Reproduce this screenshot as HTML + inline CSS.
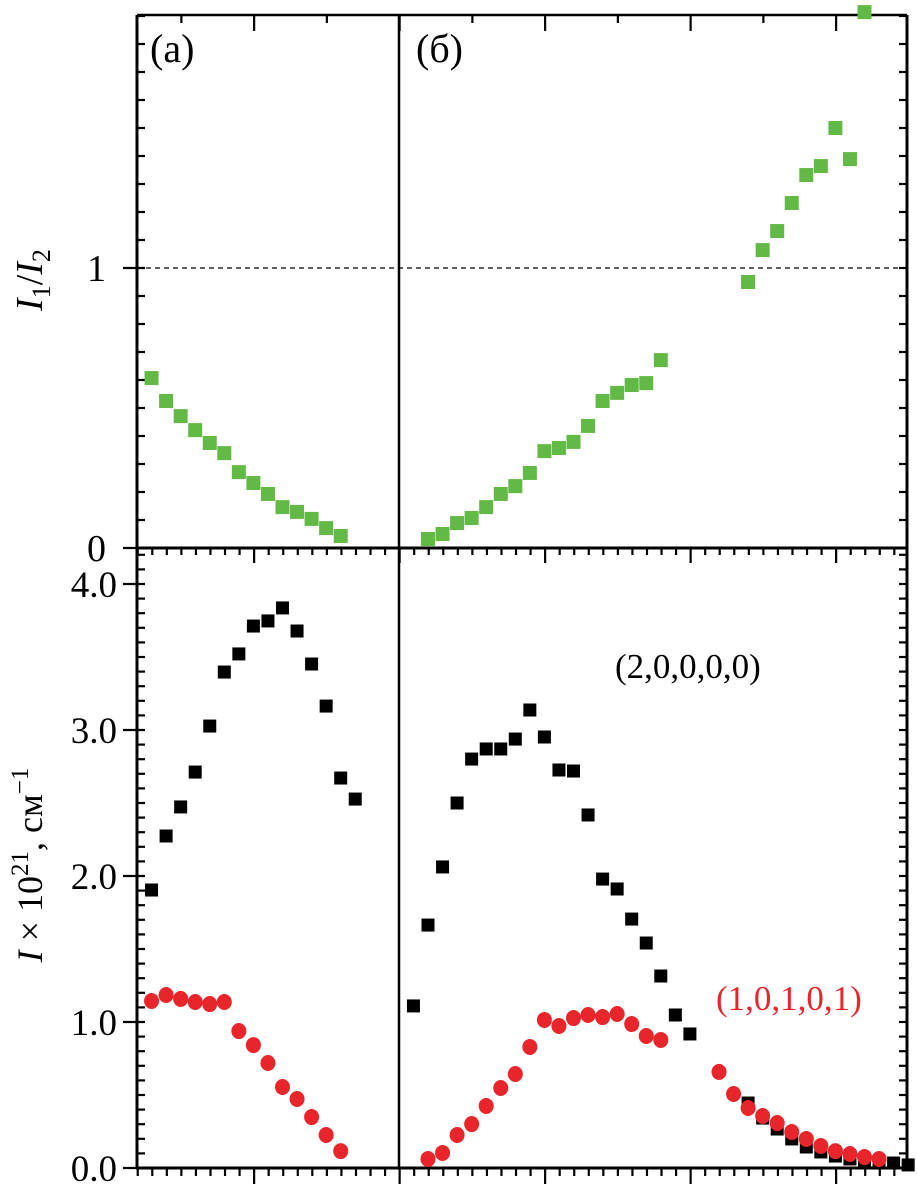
<!DOCTYPE html>
<html><head><meta charset="utf-8">
<style>
html,body{margin:0;padding:0;background:#fff;}
svg{display:block;font-family:"Liberation Serif",serif;}
svg text{font-family:"Liberation Serif","DejaVu Serif",serif;}
</style></head>
<body>
<svg id="chart" width="917" height="1191" viewBox="0 0 917 1191">
<g id="axes"></g>
<g id="marks"></g>
<g id="labels">
<text x="150" y="62" font-size="40">(a)</text>
<text x="416" y="62" font-size="40">(б)</text>
<text x="615" y="678" font-size="35">(2,0,0,0,0)</text>
<text x="716" y="1010" font-size="35" fill="#e8252a">(1,0,1,0,1)</text>
<text transform="translate(42,280) rotate(-90)" text-anchor="middle" font-size="38"><tspan font-style="italic">I</tspan><tspan font-size="26" dy="8">1</tspan><tspan dy="-8">/</tspan><tspan font-style="italic">I</tspan><tspan font-size="26" dy="8">2</tspan></text>
<text transform="translate(42,865) rotate(-90)" text-anchor="middle" font-size="36"><tspan font-style="italic">I</tspan> × 10<tspan font-size="25" dy="-14">21</tspan><tspan dy="14">, см</tspan><tspan font-size="25" dy="-14">−1</tspan></text>
</g>
</svg>
<script>
// data
const greenAx=[1,2,3,4,5,6,7,8,9,10,11,12,13,14];
const greenAy=[0.607,0.525,0.471,0.421,0.375,0.339,0.271,0.232,0.193,0.146,0.129,0.104,0.071,0.043];
const greenBx=[20,21,22,23,24,25,26,27,28,29,30,31,32,33,34,35,36];
const greenBy=[0.032,0.05,0.089,0.107,0.146,0.193,0.221,0.268,0.346,0.357,0.379,0.436,0.525,0.554,0.582,0.589,0.671];
const greenCx=[42,43,44,45,46,47,48,49,50];
const greenCy=[0.95,1.064,1.132,1.232,1.332,1.364,1.5,1.389,1.914];
const blackAx=[1,2,3,4,5,6,7,8,9,10,11,12,13,14,15];
const blackAy=[1.904,2.274,2.473,2.712,3.027,3.397,3.521,3.712,3.747,3.836,3.678,3.452,3.164,2.671,2.527];
const blackBx=[19,20,21,22,23,24,25,26,27,28,29,30,31,32,33,34,35,36,37,38];
const blackBy=[1.11,1.664,2.062,2.5,2.801,2.87,2.87,2.938,3.137,2.952,2.726,2.719,2.418,1.979,1.911,1.705,1.541,1.315,1.048,0.918];
const blackCx=[42,43,44,45,46,47,48,49,50,51,52,53];
const blackCy=[0.445,0.342,0.267,0.199,0.144,0.11,0.082,0.062,0.041,0.034,0.034,0.021];
const redAx=[1,2,3,4,5,6,7,8,9,10,11,12,13,14];
const redAy=[1.144,1.185,1.158,1.137,1.123,1.137,0.938,0.842,0.719,0.555,0.473,0.349,0.226,0.116];
const redBx=[20,21,22,23,24,25,26,27,28,29,30,31,32,33,34,35,36];
const redBy=[0.062,0.103,0.226,0.301,0.425,0.548,0.644,0.829,1.014,0.973,1.027,1.048,1.034,1.055,0.986,0.904,0.877];
const redCx=[40,41,42,43,44,45,46,47,48,49,50,51];
const redCy=[0.658,0.507,0.411,0.356,0.308,0.247,0.199,0.151,0.116,0.096,0.075,0.062];
const topTickLabels=["0","1"];
const botTickLabels=["0.0","1.0","2.0","3.0","4.0"];

const NS="http://www.w3.org/2000/svg";
const L=137,R=907,T=15,MID=548,B=1168,DIV=399;
const sx=x=>L+14.55*x;
const syTop=v=>MID-280*v;
const syBot=v=>B-146*v;
const axes=document.getElementById('axes');
const marks=document.getElementById('marks');
function mk(tag,attrs,parent){const e=document.createElementNS(NS,tag);for(const k in attrs)e.setAttribute(k,attrs[k]);parent.appendChild(e);return e;}
function line(x1,y1,x2,y2,w,name,extra){
  const e=mk('line',Object.assign({x1:x1,y1:y1,x2:x2,y2:y2,stroke:'#000','stroke-width':w},extra||{}),axes);
  
  
  return e;
}
line(L,T,R,T,2.5,'top-frame');
line(L,T,L,B,3,'left-axis');
line(R,T,R,B,3,'right-axis');
line(L-1,MID,R,MID,3,'middle-axis');
line(L-1,B,R+1,B,3,'bottom-axis');
line(DIV,T,DIV,B,2.5,'panel-divider');
line(L,syTop(1),R,syTop(1),1.2,'ref-line-one',{'stroke-dasharray':'5,4'});
for(let k=0;k<=52;k++){
  const x=sx(k+0.05);
  const major=(k%10===8);
  line(x,MID,x,MID+(major?15:7),2.2,'x-tick-mid');
  line(x,B,x,B+(major?16:8),2.2,'x-tick-bottom');
  if(k%5===3){line(x,T,x,T+(major?16:8),2.2,'x-tick-top');}
}
for(let i=0;i<=19;i++){
  const y=syTop(i/10);
  const major=(i%10===0);
  line(major?L-14:L,y,L+8,y,2.2,'y-tick-top-left');
  line(R-8,y,R,y,2.2,'y-tick-top-right');
}
for(let i=0;i<=42;i++){
  const y=syBot(i/10);
  const major=(i%10===0);
  line(major?L-14:L,y,L+8,y,2.2,'y-tick-bottom-left');
  line(R-8,y,R,y,2.2,'y-tick-bottom-right');
}
topTickLabels.forEach((t,i)=>{
  const e=mk('text',{x:106,y:syTop(i)+13,'text-anchor':'end','font-size':38,'font-family':'Liberation Serif, serif'},axes);
  e.textContent=t;
  
  
});
botTickLabels.forEach((t,i)=>{
  const e=mk('text',{x:117,y:syBot(i)+13,'text-anchor':'end','font-size':37,'font-family':'Liberation Serif, serif'},axes);
  e.textContent=t;
  
  
});
function squares(xs,ys,sy,color,size,name){
  xs.forEach((x,i)=>{
    const e=mk('rect',{x:sx(x)-size/2,y:sy(ys[i])-size/2,width:size,height:size,fill:color},marks);
    
    
  });
}
function circles(xs,ys,sy,color,name){
  xs.forEach((x,i)=>{
    const e=mk('ellipse',{cx:sx(x),cy:sy(ys[i]),rx:7.5,ry:8,fill:color},marks);
    
    
  });
}
const G='#62b946';
squares(greenAx,greenAy,syTop,G,14,'ratio-point-a');
squares(greenBx,greenBy,syTop,G,14,'ratio-point-b');
squares(greenCx,greenCy,syTop,G,14,'ratio-point-b-high');
squares(blackAx,blackAy,syBot,'#000',13,'intensity-20000-point-a');
squares(blackBx,blackBy,syBot,'#000',13,'intensity-20000-point-b');
squares(blackCx,blackCy,syBot,'#000',13,'intensity-20000-point-tail');
circles(redAx,redAy,syBot,'#e8252a','intensity-10101-point-a');
circles(redBx,redBy,syBot,'#e8252a','intensity-10101-point-b');
circles(redCx,redCy,syBot,'#e8252a','intensity-10101-point-tail');
</script>
</body></html>
